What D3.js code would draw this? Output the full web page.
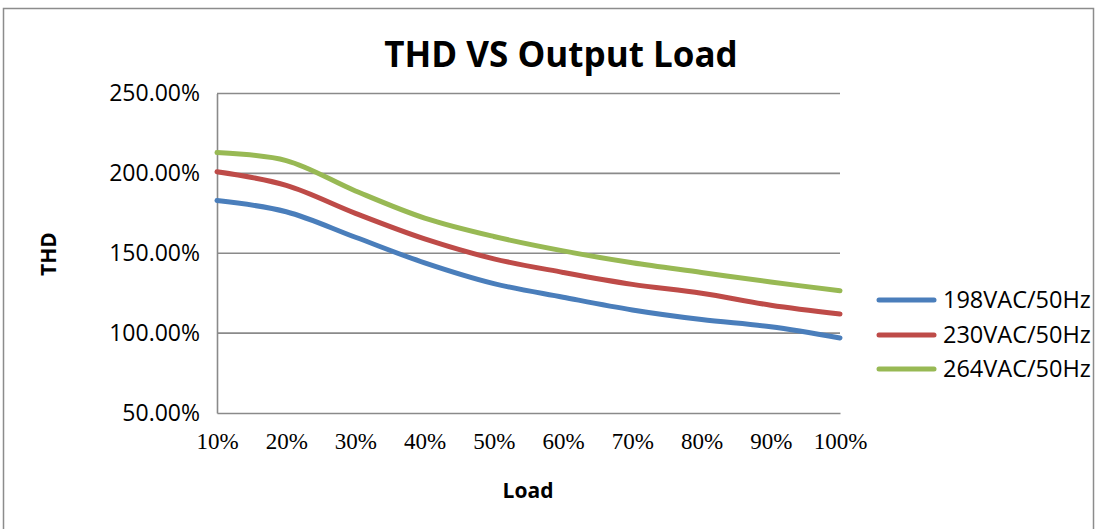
<!DOCTYPE html>
<html>
<head>
<meta charset="utf-8">
<script src="https://cdn.jsdelivr.net/npm/d3@7"></script>
<style>
  html, body { margin: 0; padding: 0; background: #fff; }
  svg { display: block; }
</style>
</head>
<body>
<svg id="chart" width="1099" height="529"></svg>
<script>
const categories = ["10%", "20%", "30%", "40%", "50%", "60%", "70%", "80%", "90%", "100%"];
const seriesNames = ["198VAC/50Hz", "230VAC/50Hz", "264VAC/50Hz"];
const v198 = [183, 176, 160, 144, 131, 122.5, 114.5, 108.5, 104, 97];
const v230 = [201, 192.5, 175, 159, 146.5, 138, 130.5, 125, 117.5, 112];
const v264 = [213, 208, 189, 172, 160.5, 151.5, 144, 138, 132, 126.5];
const yTicks = [50, 100, 150, 200, 250];
const colors = ["#4A7EBB", "#BE4B48", "#98B954"];

const series = [v198, v230, v264];

const svg = d3.select("#chart");
const plot = { left: 217, right: 840, top: 93.5, bottom: 413 };

// outer frame
svg.append("rect")
  .attr("x", 3.5).attr("y", 8.5)
  .attr("width", 1090).attr("height", 540)
  .attr("fill", "none").attr("stroke", "#8c8c8c").attr("stroke-width", 1.5);

const x = d3.scalePoint().domain(categories).range([plot.left, plot.right]);
const y = d3.scaleLinear().domain([50, 250]).range([plot.bottom, plot.top]);

// gridlines
svg.append("g")
  .selectAll("line")
  .data(yTicks.filter(t => t > 50))
  .join("line")
  .attr("x1", plot.left).attr("x2", plot.right)
  .attr("y1", d => y(d)).attr("y2", d => y(d))
  .attr("stroke", "#8a8a8a").attr("stroke-width", 1.6);

// y axis
const yAxis = d3.axisLeft(y).tickValues(yTicks).tickSize(0).tickPadding(17)
  .tickFormat(d => d3.format(".2f")(d) + "%");
const gy = svg.append("g").attr("transform", `translate(${plot.left},0)`).call(yAxis);
gy.select(".domain").attr("stroke", "#8a8a8a").attr("stroke-width", 1.6);
gy.selectAll("text")
  .attr("font-family", "'Open Sans', 'Noto Sans', sans-serif")
  .attr("font-size", 23).attr("fill", "#000");

// x axis
const xAxis = d3.axisBottom(x).tickSize(0).tickPadding(20);
const gx = svg.append("g").attr("transform", `translate(0,${plot.bottom})`).call(xAxis);
gx.select(".domain").attr("stroke", "#8a8a8a").attr("stroke-width", 1.6);
gx.selectAll("text")
  .attr("font-family", "'Liberation Serif', 'DejaVu Serif', serif")
  .attr("font-size", 23).attr("fill", "#000");

// lines
const line = d3.line()
  .x((d, i) => x(categories[i]))
  .y(d => y(d))
  .curve(d3.curveCatmullRom.alpha(0.5));

svg.append("g")
  .selectAll("path")
  .data(series)
  .join("path")
  .attr("d", d => line(d))
  .attr("fill", "none")
  .attr("stroke", (d, i) => colors[i])
  .attr("stroke-width", 5)
  .attr("stroke-linecap", "round")
  .attr("stroke-linejoin", "round");

// title
svg.append("text")
  .attr("x", 561).attr("y", 67)
  .attr("text-anchor", "middle")
  .attr("font-family", "'Open Sans', 'Noto Sans', sans-serif")
  .attr("font-weight", "bold")
  .attr("font-size", 35)
  .text("THD VS Output Load");

// axis titles
svg.append("text")
  .attr("x", 528).attr("y", 498)
  .attr("text-anchor", "middle")
  .attr("font-family", "'Open Sans', 'Noto Sans', sans-serif")
  .attr("font-weight", "bold")
  .attr("font-size", 21)
  .text("Load");

svg.append("text")
  .attr("transform", "translate(56,254) rotate(-90)")
  .attr("text-anchor", "middle")
  .attr("font-family", "'Open Sans', 'Noto Sans', sans-serif")
  .attr("font-weight", "bold")
  .attr("font-size", 21)
  .text("THD");

// legend
const legendY = [300, 335, 369];
const lg = svg.append("g");
seriesNames.forEach((name, i) => {
  lg.append("line")
    .attr("x1", 879).attr("x2", 934)
    .attr("y1", legendY[i]).attr("y2", legendY[i])
    .attr("stroke", colors[i]).attr("stroke-width", 5)
    .attr("stroke-linecap", "round");
  lg.append("text")
    .attr("x", 943).attr("y", legendY[i])
    .attr("dy", "0.36em")
    .attr("font-family", "'Open Sans', 'Noto Sans', sans-serif")
    .attr("font-size", 23.5)
    .text(name);
});
</script>
</body>
</html>
